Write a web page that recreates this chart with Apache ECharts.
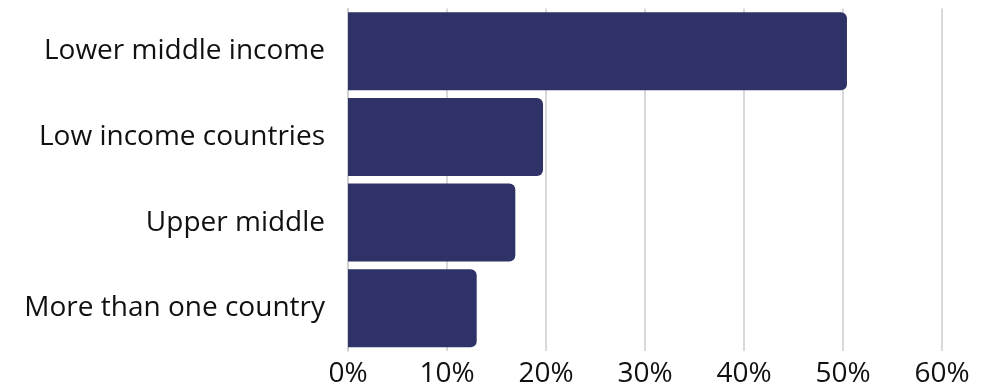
<!DOCTYPE html>
<html>
<head>
<meta charset="utf-8">
<script src="https://cdn.jsdelivr.net/npm/echarts@6/dist/echarts.min.js"></script>
<style>
html,body{margin:0;padding:0;background:#fff;}
#chart{width:987px;height:388px;}
</style>
</head>
<body>
<div id="chart"></div>
<script>
const categories = ["Lower middle income", "Low income countries", "Upper middle", "More than one country"];
const values = [50.4, 19.7, 16.9, 13.0];
const xTicks = [0, 10, 20, 30, 40, 50, 60];

const chart = echarts.init(document.getElementById('chart'), null, {renderer: 'canvas'});
chart.setOption({
  animation: false,
  backgroundColor: '#ffffff',
  grid: {left: 348, right: 45, top: 8.5, bottom: 37, containLabel: false},
  xAxis: {
    type: 'value',
    min: xTicks[0],
    max: xTicks[xTicks.length - 1],
    interval: 10,
    axisLine: {show: false},
    axisTick: {show: false},
    splitLine: {show: true, lineStyle: {color: '#cccccc', width: 1.5}},
    axisLabel: {
      formatter: v => v + '%',
      color: '#111111',
      fontFamily: 'Open Sans',
      fontSize: 28,
      margin: 9
    }
  },
  yAxis: {
    type: 'category',
    data: categories,
    inverse: true,
    axisLine: {show: true, lineStyle: {color: '#cccccc', width: 1.5}},
    axisTick: {show: false},
    splitLine: {show: false},
    axisLabel: {
      color: '#111111',
      fontFamily: 'Open Sans',
      fontSize: 28,
      margin: 23
    }
  },
  series: [{
    type: 'bar',
    data: values,
    barCategoryGap: '9%',
    itemStyle: {color: '#2e3267', borderRadius: [0, 6, 6, 0]}
  }]
});
</script>
</body>
</html>
